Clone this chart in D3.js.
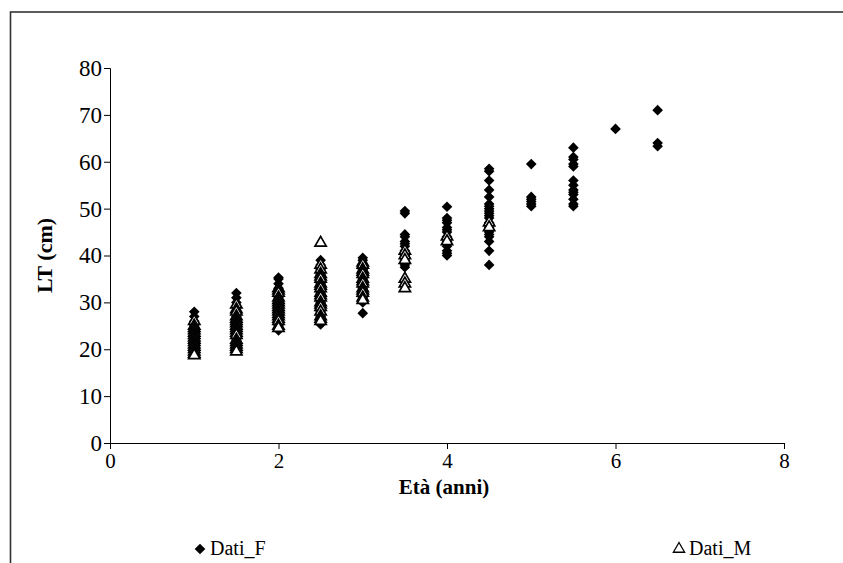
<!DOCTYPE html>
<html><head><meta charset="utf-8">
<script src="https://cdn.jsdelivr.net/npm/d3@7"></script>
<style>body{margin:0;background:#fff}svg{display:block}
svg text{font-family:'Liberation Serif','Times New Roman',serif;fill:#000}</style>
</head><body>
<svg id="c" width="843" height="563"></svg>
<script>
// Ages (x categories) and LT values per age, per series
const ages = [1, 1.5, 2, 2.5, 3, 3.5, 4, 4.5, 5, 5.5, 6, 6.5];
const datiF = [
  [28, 27, 26, 25, 24.5, 24, 23.5, 23, 22.5, 22, 21.5, 21, 20.5, 20, 19.5, 19],
  [32, 31, 30, 29, 28, 27.5, 27, 26, 25.5, 25, 24.5, 24, 23, 22.5, 22, 21, 20.5, 20],
  [35.3, 35, 34, 33, 32, 31.5, 31, 30, 29.5, 29, 28, 27.5, 27, 26, 25.5, 25, 24.5, 24],
  [39, 38, 37, 36.5, 36, 35, 34, 33, 32.5, 32, 31, 30.5, 30, 29, 28, 27.5, 27, 26, 25.5, 25.3],
  [39.5, 39, 38, 37.5, 37, 36, 35, 34, 33.5, 33, 32, 31, 30, 27.7],
  [49.5, 49, 44.5, 44, 43, 42.5, 42, 41, 40, 39.5, 39, 38, 37.5],
  [50.4, 48, 47.5, 47, 46, 45.5, 45, 44, 43, 42.5, 42, 41, 40.5, 40],
  [58.5, 58, 56, 54, 52.5, 51, 50.5, 50, 49.5, 49, 48.5, 48, 47, 46, 45, 44.5, 44, 43, 41, 38],
  [59.5, 52.5, 52, 51.5, 51, 50.5],
  [63, 61, 60.5, 59.5, 59, 56, 55, 54, 53.5, 53, 52, 51, 50.5],
  [67],
  [71, 64, 63.3]
];
const datiM = [
  [26, 25, 24.5, 24, 23.5, 23, 22.5, 22, 21.5, 21, 20.5, 20, 19.5, 19, 18.7],
  [29.5, 28.5, 28, 27, 26.5, 26, 25.5, 25, 24.5, 24, 23.5, 23, 22, 21.5, 21, 20.5, 20, 19.5],
  [33, 32.5, 32, 31, 30.5, 30, 29.5, 29, 28.5, 28, 27.5, 27, 26.5, 26, 25, 24.5],
  [42.7, 38, 37, 36, 35.5, 35, 34, 33.5, 33, 32, 31.5, 31, 30, 29.5, 29, 28, 27, 26.5, 26],
  [38.5, 38, 37, 36.5, 36, 35, 34.5, 34, 33, 32.5, 32, 31, 30.5],
  [41, 40, 39, 35, 34, 33],
  [44, 43],
  [47, 46],
  [], [], [], []
];
const xTicks = [0, 2, 4, 6, 8];
const yTicks = [0, 10, 20, 30, 40, 50, 60, 70, 80];
const xTitle = "Età (anni)";
const yTitle = "LT (cm)";
const seriesNames = ["Dati_F", "Dati_M"];

const toPoints = arr => arr.flatMap((vals, i) => vals.map(v => ({x: ages[i], y: v})));
const ptsF = toPoints(datiF), ptsM = toPoints(datiM);

const svg = d3.select("#c");
svg.append("rect").attr("x", 10.5).attr("y", 12).attr("width", 900).attr("height", 600)
  .attr("fill", "none").attr("stroke", "#333").attr("stroke-width", 1.6);

const x = d3.scaleLinear().domain([0, 8]).range([110, 784]);
const y = d3.scaleLinear().domain([0, 80]).range([443, 68]);

const gx = svg.append("g").attr("transform", "translate(0,443)")
  .call(d3.axisBottom(x).tickValues(xTicks).tickSize(6).tickPadding(4).tickFormat(d3.format("d")));
const gy = svg.append("g").attr("transform", "translate(110,0)")
  .call(d3.axisLeft(y).tickValues(yTicks).tickSize(6).tickPadding(2).tickFormat(d3.format("d")));
[gx, gy].forEach(g => {
  g.attr("font-family", null);
  g.select(".domain").attr("stroke", "#000");
  g.selectAll(".tick line").attr("stroke", "#000");
});
gx.selectAll("text").attr("font-size", 21);
gy.selectAll("text").attr("font-size", 23);

svg.append("text").attr("x", x(4) - 3).attr("y", 494).attr("text-anchor", "middle")
  .attr("font-weight", "bold").attr("font-size", 21).text(xTitle);
svg.append("text").attr("transform", `translate(52,${y(40)}) rotate(-90)`).attr("text-anchor", "middle")
  .attr("font-weight", "bold").attr("font-size", 22).text(yTitle);

const diamond = d3.symbol().type(d3.symbolDiamond2).size(72);
const tri = d3.symbol().type(d3.symbolTriangle).size(55);

svg.append("g").selectAll("path").data(ptsF).join("path")
  .attr("d", diamond).attr("transform", d => `translate(${x(d.x)},${y(d.y)})`).attr("fill", "#000");
svg.append("g").selectAll("path").data(ptsM).join("path")
  .attr("d", tri).attr("transform", d => `translate(${x(d.x)},${y(d.y)})`)
  .attr("fill", "#fff").attr("stroke", "#000").attr("stroke-width", 1.7);

// legend
const leg = [{name: seriesNames[0], cx: 200, sym: diamond, fill: "#000", stroke: "none"},
             {name: seriesNames[1], cx: 679, sym: tri, fill: "#fff", stroke: "#000"}];
leg.forEach(l => {
  svg.append("path").attr("d", l.sym).attr("transform", `translate(${l.cx},549)`)
    .attr("fill", l.fill).attr("stroke", l.stroke).attr("stroke-width", 1.3);
  svg.append("text").attr("x", l.cx + 10).attr("y", 555).attr("font-size", 20).text(l.name);
});
</script>
</body></html>
